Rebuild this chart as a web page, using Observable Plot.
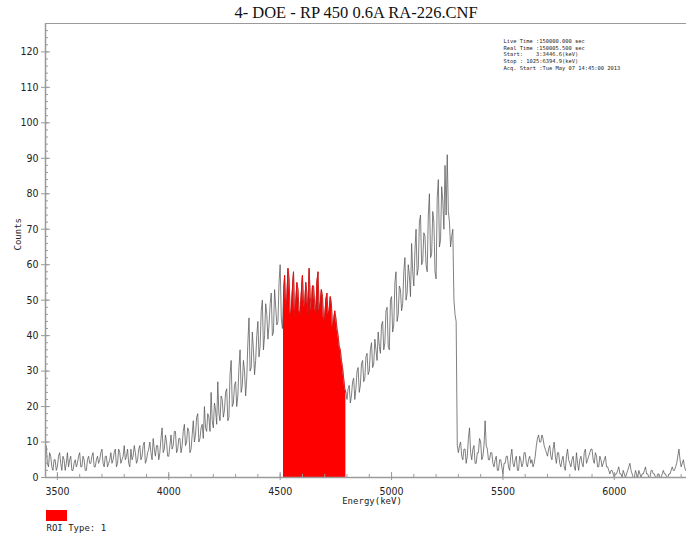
<!DOCTYPE html>
<html>
<head>
<meta charset="utf-8">
<script src="https://cdn.jsdelivr.net/npm/d3@7"></script>
<script src="https://cdn.jsdelivr.net/npm/@observablehq/plot@0.6"></script>
<style>
  body { margin: 0; background: #fff; }
  #chart svg { display: block; }
</style>
</head>
<body>
<div id="chart"></div>
<script>
// ---- data ----
const title = "4- DOE - RP 450 0.6A RA-226.CNF";
const infoLines = [
  "Live Time :150000.000 sec",
  "Real Time :150005.500 sec",
  "Start:    3:3446.6(keV)",
  "Stop : 1025:6394.9(keV)",
  "Acq. Start :Tue May 07 14:45:00 2013"
];
const xLabel = "Energy(keV)";
const yLabel = "Counts";
const legendLabel = "ROI Type: 1";

const startKeV = 3450;   // energy of first sample
const stepKeV = 5;       // energy step between samples
const counts = [
  9,4,3,7,6,3,2,5,5,2,3,6,7,4,2,6,5,2,4,7,
  3,5,6,2,2,4,5,3,4,6,7,3,3,6,5,2,2,5,6,4,
  4,6,7,3,3,5,6,4,5,7,8,4,3,6,6,3,4,5,7,4,
  5,7,8,3,4,8,7,4,5,6,9,5,6,8,4,3,8,5,6,9,
  7,4,5,8,9,5,6,9,10,4,5,7,8,10,7,5,11,8,6,9,
  9,5,7,11,14,7,8,12,10,6,6,9,12,8,9,13,13,7,8,11,
  11,7,9,13,15,9,10,14,13,7,8,12,16,10,12,17,18,10,11,14,
  15,11,20,14,13,18,17,13,24,16,14,21,19,15,27,18,16,23,22,17,
  19,24,25,16,17,29,33,20,21,26,27,20,23,31,36,24,26,33,30,23,
  28,38,45,30,31,41,36,29,33,40,44,34,37,47,50,36,40,49,46,39,
  43,49,52,40,41,53,48,43,44,55,60,45,42,51,57,48,50,59,56,46,
  47,53,58,45,49,55,53,47,46,52,57,49,48,55,52,46,59,51,47,54,
  54,49,46,55,58,47,49,53,51,44,45,50,52,46,47,51,49,42,44,47,
  45,42,40,37,36,33,31,28,25,24,22,25,26,21,23,27,28,22,25,30,
  31,24,26,32,33,27,28,34,35,29,30,36,38,31,32,39,36,33,41,37,
  35,43,44,36,38,47,48,37,36,50,51,41,43,55,58,44,46,54,53,47,
  49,58,62,50,52,60,57,51,66,58,54,64,70,57,59,72,74,60,61,69,
  68,60,58,74,80,62,63,75,72,58,56,79,84,65,67,82,78,70,88,74,
  91,75,72,65,68,70,50,46,44,9,7,9,10,6,5,8,8,4,6,11,
  14,7,5,8,9,4,4,7,7,11,10,5,6,9,16,9,8,5,5,7,
  7,4,3,5,6,2,2,5,5,3,1,4,4,6,6,3,2,6,8,4,
  3,5,6,2,2,6,5,3,4,7,7,4,3,5,6,4,5,3,4,6,
  9,11,12,10,10,12,11,9,8,7,6,8,9,6,5,8,10,6,4,7,
  7,4,3,5,6,3,2,6,8,5,4,3,5,6,3,2,7,4,2,5,
  6,4,3,7,8,4,5,6,7,8,8,5,4,7,6,3,3,6,5,3,
  4,5,6,3,3,2,1,2,2,1,0,1,1,2,3,1,1,0,2,1,
  0,1,2,3,4,2,1,0,0,2,1,0,2,1,0,1,1,2,3,1,
  1,0,0,2,2,1,1,0,0,1,1,0,0,1,2,1,1,0,0,1,
  1,2,3,2,2,3,4,6,8,5,3,4,5,3,2
];
const roiRange = [4515, 4795];
const xDomain = [3446.6, 6324];
const yDomain = [0, 128];
const xMajorTicks = [3500, 4000, 4500, 5000, 5500, 6000];
const xMinorTicks = d3.range(3500, 6301, 100);
const yMajorTicks = d3.range(0, 121, 10);
const yMinorTicks = d3.range(0, 127, 2);

// ---- layout ----
const W = 686, H = 534;
const mL = 45, mR = 0, mT = 23, mB = 57;
const plotW = W - mL - mR, plotH = H - mT - mB;

const spectrum = counts.map((c, i) => ({energy: startKeV + i * stepKeV, counts: c}));
const roiData = spectrum.filter(d => d.energy >= roiRange[0] && d.energy <= roiRange[1]);

const axisColor = "#9a9a9a";
const tickFont = "'Liberation Sans Narrow', 'DejaVu Sans Condensed', 'Arial Narrow', sans-serif";
const monoFont = "'DejaVu Sans Mono', 'Liberation Mono', monospace";

const chart = Plot.plot({
  width: W, height: H,
  marginLeft: mL, marginRight: mR, marginTop: mT, marginBottom: mB,
  style: {background: "#fff", overflow: "visible"},
  x: {domain: xDomain, label: null},
  y: {domain: yDomain, label: null},
  marks: [
    // ROI filled region
    Plot.areaY(roiData, {x: "energy", y: "counts", fill: "#ff0000"}),
    // spectrum line
    Plot.lineY(spectrum, {x: "energy", y: "counts", stroke: "#555", strokeWidth: 0.75}),
    Plot.lineY(roiData, {x: "energy", y: "counts", stroke: "#ff0000", strokeWidth: 0.75}),
    // frame lines
    Plot.ruleY([yDomain[0]], {stroke: axisColor, strokeWidth: 1.5}),
    Plot.ruleY([yDomain[1]], {stroke: axisColor, strokeWidth: 1.2}),
    Plot.ruleX([xDomain[0]], {stroke: axisColor, strokeWidth: 1.5}),
    // inward ticks
    Plot.tickY(yMinorTicks, {y: d => d, insetRight: plotW - 3, stroke: axisColor}),
    Plot.tickY(yMajorTicks, {y: d => d, insetRight: plotW - 5, stroke: axisColor}),
    Plot.tickX(xMinorTicks, {x: d => d, insetTop: plotH - 3, stroke: axisColor}),
    Plot.tickX(xMajorTicks, {x: d => d, insetTop: plotH - 5, stroke: axisColor}),
    // axes
    Plot.axisY(yMajorTicks, {tickSize: 4, tickPadding: 3, tickFormat: d => String(d), fontSize: 10.5, fontFamily: tickFont, stroke: axisColor, fill: "#222", label: null}),
    Plot.axisX(xMajorTicks, {tickSize: 3, tickPadding: 7, tickFormat: d => String(d), fontSize: 10.5, fontFamily: tickFont, stroke: axisColor, fill: "#222", label: null}),
    // axis labels
    Plot.text([yLabel], {frameAnchor: "left", dx: -27, rotate: -90, lineAnchor: "middle", fontSize: 9, fontFamily: monoFont, fill: "#222"}),
    Plot.text([xLabel], {frameAnchor: "bottom", dx: 6, dy: 24, lineAnchor: "middle", fontSize: 9, fontFamily: monoFont, fill: "#222"}),
    // title
    Plot.text([title], {frameAnchor: "top", dx: -10, dy: -11, lineAnchor: "middle", fontSize: 16.5, fontFamily: "'Liberation Serif', 'DejaVu Serif', serif", fill: "#111"}),
    // acquisition info
    Plot.text([infoLines.join("\n")], {frameAnchor: "top-left", dx: 458, dy: 15, textAnchor: "start", lineAnchor: "top", fontSize: 5.4, lineHeight: 1.22, fontFamily: monoFont, fill: "#222"}),
    // legend text
    Plot.text([legendLabel], {frameAnchor: "bottom-left", dx: 1, dy: 51, textAnchor: "start", lineAnchor: "middle", fontSize: 9, fontFamily: monoFont, fill: "#222"})
  ]
});

// legend swatch
d3.select(chart).append("rect")
  .attr("x", 46).attr("y", 510).attr("width", 21).attr("height", 11)
  .attr("fill", "#ff0000");

document.getElementById("chart").append(chart);
</script>
</body>
</html>
